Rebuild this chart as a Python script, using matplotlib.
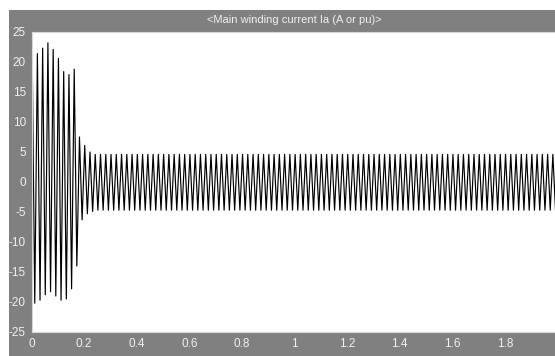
import matplotlib
matplotlib.use("Agg")
import matplotlib.pyplot as plt
from matplotlib.patches import Rectangle
from matplotlib import font_manager
import numpy as np

# Main winding current of the machine, 50 Hz supply.
# Successive positive and negative half-cycle peaks (A), read per cycle.
supply_freq = 50.0
start_value = 0.0
peaks_start = [22.3, 21.4, 22.3, 23.2, 22.1, 20.6, 18.4, 17.9, 18.8, 7.5, 6.1, 5.0]
troughs_start = [-20.2, -19.7, -18.8, -18.3, -19.0, -19.7, -19.5, -17.8, -14.0, -6.3, -5.3, -4.9]
steady_peak = 4.6
steady_trough = -4.7
n_cycles = 100

peaks = peaks_start + [steady_peak] * (n_cycles - len(peaks_start))
troughs = troughs_start + [steady_trough] * (n_cycles - len(troughs_start))

period = 1.0 / supply_freq
t = [0.0]
ia = [start_value]
for k in range(n_cycles):
    t.append(k * period + 0.12 * period)
    ia.append(peaks[k])
    t.append(k * period + 0.62 * period)
    ia.append(troughs[k])

xticks = [0, 0.2, 0.4, 0.6, 0.8, 1.0, 1.2, 1.4, 1.6, 1.8]
xticklabels = ["0", "0.2", "0.4", "0.6", "0.8", "1", "1.2", "1.4", "1.6", "1.8"]
yticks = [-25, -20, -15, -10, -5, 0, 5, 10, 15, 20, 25]
title = "<Main winding current Ia (A or pu)>"

names = {f.name for f in font_manager.fontManager.ttflist}
font = [n for n in ["Liberation Sans Narrow", "Liberation Sans", "DejaVu Sans"] if n in names]

W, H = 555, 356
fig = plt.figure(figsize=(W / 100, H / 100), dpi=100)
fig.patch.set_facecolor("white")

# grey scope frame behind the plotting area
bg = fig.add_axes([9 / W, 0, 1 - 9 / W, (H - 10) / H], zorder=-5)
bg.set_axis_off()
bg.add_patch(Rectangle((0, 0), 1, 1, transform=bg.transAxes, facecolor="#808080",
                       edgecolor="none"))

txt_color = "#f0f0f0"

left, right_px, top, bottom = 31.5, 557.5, 32, 332
ax = fig.add_axes([left / W, (H - bottom) / H, (right_px - left) / W, (bottom - top) / H],
                  zorder=1)
ax.set_facecolor("white")
ax.plot(t, ia, color="black", lw=0.85, antialiased=True)
ax.set_xlim(0, 2)
ax.set_ylim(-25, 25)
ax.set_xticks(xticks)
ax.set_xticklabels(xticklabels)
ax.set_yticks(yticks)
ax.set_yticklabels([str(v) for v in yticks])
ax.tick_params(length=0, pad=4, colors=txt_color, labelsize=8.5)
for lab in ax.get_xticklabels() + ax.get_yticklabels():
    lab.set_family(font)
for s in ax.spines.values():
    s.set_color("#d8d8d8")
    s.set_linewidth(0.8)

fig.text((left + right_px) / 2 / W, 1 - 20 / H, title, ha="center", va="center",
         color=txt_color, fontsize=8, family=font)

fig.savefig("out.png", dpi=100)
